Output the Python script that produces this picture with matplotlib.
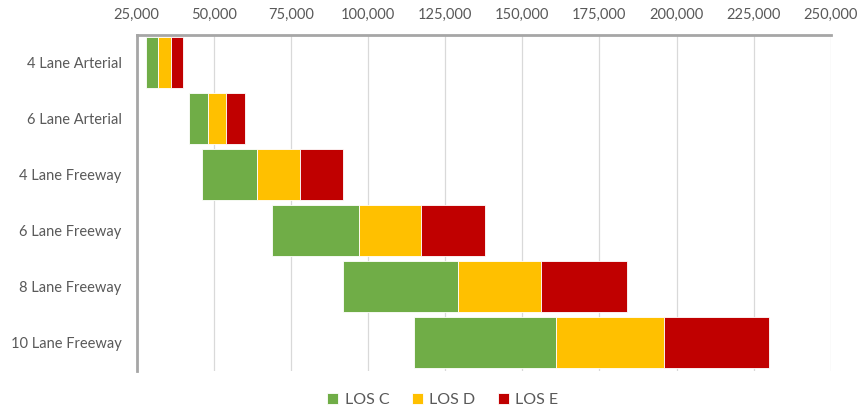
import matplotlib.pyplot as plt
from matplotlib.ticker import FuncFormatter

# Data (vehicles per day)
facilities = ['4 Lane Arterial', '6 Lane Arterial', '4 Lane Freeway',
              '6 Lane Freeway', '8 Lane Freeway', '10 Lane Freeway']
los_start = [28000, 42000, 46000, 69000, 92000, 115000]
los_c_max = [32000, 48000, 64000, 97000, 129000, 161000]
los_d_max = [36000, 54000, 78000, 117000, 156000, 196000]
los_e_max = [40000, 60000, 92000, 138000, 184000, 230000]
x_ticks = [25000, 50000, 75000, 100000, 125000, 150000, 175000, 200000, 225000, 250000]

plt.rcParams['font.family'] = ['Lato', 'DejaVu Sans']
text_color = '#595959'

fig = plt.figure(figsize=(8.6, 4.09), dpi=100)
ax = fig.add_axes([0.159, 0.093, 0.807, 0.822])

y = list(range(len(facilities)))
c_w = [c - s for s, c in zip(los_start, los_c_max)]
d_w = [d - c for c, d in zip(los_c_max, los_d_max)]
e_w = [e - d for d, e in zip(los_d_max, los_e_max)]

bh = 0.91
ax.barh(y, c_w, left=los_start, height=bh, color='#70AD47', edgecolor='white', linewidth=0.6, label='LOS C', zorder=3)
ax.barh(y, d_w, left=los_c_max, height=bh, color='#FFC000', edgecolor='white', linewidth=0.6, label='LOS D', zorder=3)
ax.barh(y, e_w, left=los_d_max, height=bh, color='#C00000', edgecolor='white', linewidth=0.6, label='LOS E', zorder=3)

ax.set_xlim(25000, 250000)
ax.set_ylim(len(facilities) - 0.5, -0.5)
ax.set_xticks(x_ticks)
ax.xaxis.set_major_formatter(FuncFormatter(lambda v, p: f'{int(v):,}'))
ax.xaxis.tick_top()
ax.set_yticks(y)
ax.set_yticklabels(facilities)
ax.tick_params(axis='x', length=0, pad=9, labelsize=10.5, labelcolor=text_color)
ax.tick_params(axis='y', length=0, pad=11, labelsize=10.5, labelcolor=text_color)
ax.grid(axis='x', color='#D9D9D9', linewidth=0.9, zorder=0)

for side in ['right', 'bottom']:
    ax.spines[side].set_visible(False)
for side in ['top', 'left']:
    ax.spines[side].set_color('#A6A6A6')
    ax.spines[side].set_linewidth(2)

fig.legend(loc='lower center', bbox_to_anchor=(0.515, -0.03), ncol=3, frameon=False,
           fontsize=11.5, labelcolor=text_color, handlelength=0.7, handleheight=0.7,
           handletextpad=0.4, columnspacing=1.4)

fig.savefig('out.png', dpi=100)
